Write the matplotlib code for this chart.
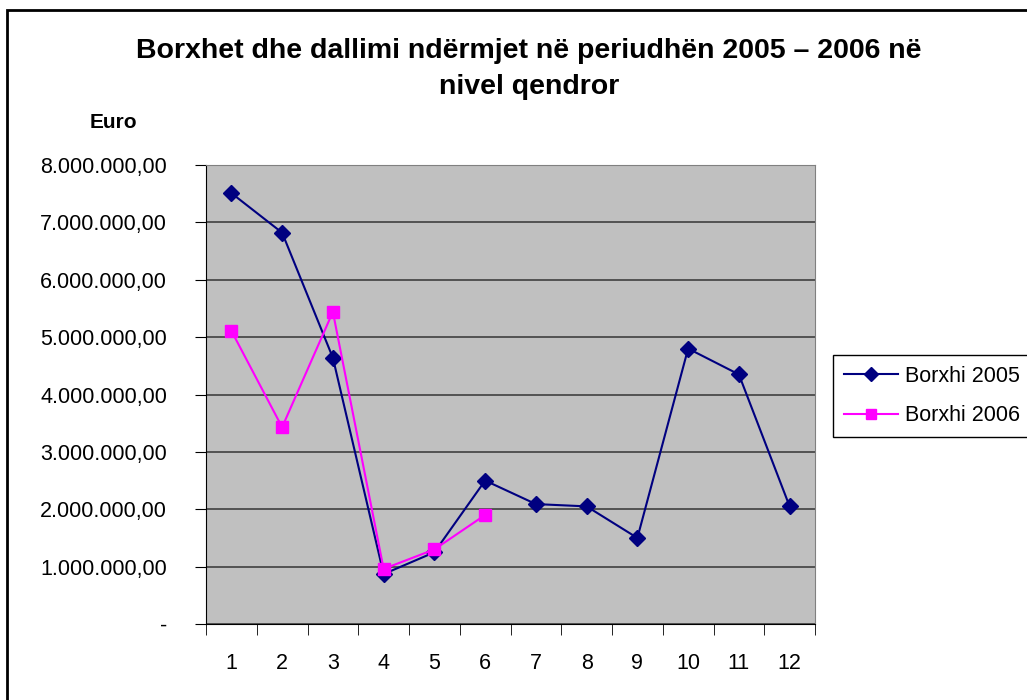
import matplotlib
matplotlib.use("Agg")
import matplotlib.pyplot as plt
from matplotlib.patches import Rectangle
from matplotlib.ticker import FuncFormatter, FixedLocator

plt.rcParams["font.family"] = ["Liberation Sans", "DejaVu Sans"]

# ---------- data ----------
months = [1, 2, 3, 4, 5, 6, 7, 8, 9, 10, 11, 12]
borxhi_2005 = [7510000, 6820000, 4640000, 870000, 1250000, 2500000,
               2090000, 2050000, 1500000, 4800000, 4350000, 2050000]
months_2006 = [1, 2, 3, 4, 5, 6]
borxhi_2006 = [5110000, 3430000, 5440000, 960000, 1300000, 1900000]

title = "Borxhet dhe dallimi ndërmjet në periudhën 2005 – 2006 në\nnivel qendror"


def euro_fmt(v, pos):
    if v == 0:
        return "-"
    s = f"{v:,.2f}"
    return s.replace(",", "X").replace(".", ",").replace("X", ".")


fig = plt.figure(figsize=(10.27, 7.0), dpi=100)
W, H = 1027, 700
ax = fig.add_axes([206 / W, 1 - 624 / H, (815 - 206) / W, (624 - 165) / H])
ax.set_facecolor("#C0C0C0")

# outer chart border (cut off on right and bottom, as in the reference)
fig.patches.append(Rectangle((7 / W, -0.1), 1.2, (H - 10) / H + 0.1,
                             transform=fig.transFigure, fill=False,
                             edgecolor="black", linewidth=2, clip_on=False))

ax.plot(months, borxhi_2005, color="#000080", marker="D", markersize=8,
        linewidth=1.5, label="Borxhi 2005", zorder=3)
ax.plot(months_2006, borxhi_2006, color="#FF00FF", marker="s", markersize=8,
        linewidth=1.5, label="Borxhi 2006", zorder=3)

ax.set_xlim(0.5, 12.5)
ax.set_ylim(0, 8000000)
ax.set_yticks(range(0, 8000001, 1000000))
ax.yaxis.set_major_formatter(FuncFormatter(euro_fmt))
ax.yaxis.grid(True, color="#404040", linewidth=1.2)
ax.set_axisbelow(True)

# category labels centred, ticks between categories
ax.set_xticks(months)
ax.xaxis.set_minor_locator(FixedLocator([m + 0.5 for m in [0] + months]))
ax.tick_params(axis="x", which="major", length=0, pad=21, labelsize=15.5)
ax.tick_params(axis="x", which="minor", length=8, direction="out", color="black")
ax.tick_params(axis="y", length=8, direction="out", labelsize=15.5, pad=20)

for side in ("top", "right"):
    ax.spines[side].set_color("#808080")
ax.spines["left"].set_color("black")
ax.spines["bottom"].set_color("black")

fig.text(529 / W, 1 - 69 / H, title, ha="center", va="center", fontsize=20.5,
         fontweight="bold", linespacing=1.45)
fig.text(113 / W, 1 - 122 / H, "Euro", ha="center", va="center", fontsize=15,
         fontweight="bold")

leg = fig.legend(loc="upper left", bbox_to_anchor=(833 / W, 1 - 355 / H),
                 borderaxespad=0, fontsize=15.5, frameon=True, fancybox=False,
                 edgecolor="black", framealpha=1, handlelength=2.5,
                 borderpad=0.5, labelspacing=0.85, handletextpad=0.33,
                 markerscale=0.85)
leg.get_frame().set_linewidth(1)

fig.savefig("out.png", dpi=100)
